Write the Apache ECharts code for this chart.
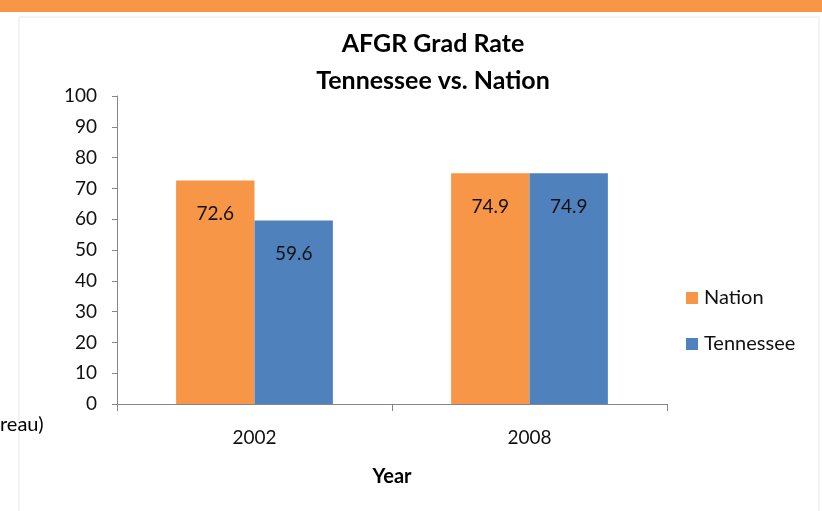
<!DOCTYPE html>
<html style="height: 100%">
<head>
    <meta charset="utf-8">
    <title>AFGR Grad Rate</title>
</head>
<body style="height: 100%; margin: 0">
<div id="container" style="width: 822px; height: 511px"></div>
<script src="https://cdn.jsdelivr.net/npm/echarts@6/dist/echarts.min.js"></script>
<script type="text/javascript">
    var years = ['2002', '2008'];
    var nation = [72.6, 74.9];
    var tennessee = [59.6, 74.9];
    var seriesNames = ['Nation', 'Tennessee'];

    var font = 'Lato, "Open Sans", sans-serif';
    var myChart = echarts.init(document.getElementById('container'));

    var labelStyle = {
        show: true,
        position: 'insideTop',
        distance: 24,
        color: '#111',
        fontSize: 19,
        fontFamily: font
    };

    var option = {
        backgroundColor: '#fff',
        animation: false,
        title: {
            text: 'AFGR Grad Rate\nTennessee vs. Nation',
            left: 428,
            textAlign: 'center',
            top: 20,
            textStyle: {
                color: '#000',
                fontSize: 25,
                fontWeight: 'bold',
                fontFamily: font,
                lineHeight: 37
            }
        },
        // orange band, panel frame and leftover slide text
        graphic: [
            { type: 'rect', shape: { x: 0, y: 0, width: 822, height: 12 }, style: { fill: '#F79646' } },
            { type: 'rect', shape: { x: 19, y: 17, width: 800, height: 520 }, style: { fill: 'none', stroke: '#e8e8e8', lineWidth: 1 } },
            { type: 'text', left: 0, top: 415, style: { text: 'reau)', fill: '#000', fontSize: 20, fontFamily: font } }
        ],
        legend: {
            orient: 'vertical',
            left: 681,
            top: 283,
            itemWidth: 12,
            itemHeight: 12,
            itemGap: 26,
            icon: 'rect',
            data: seriesNames,
            textStyle: { fontSize: 20, color: '#111', fontFamily: font, padding: [0, 0, 0, 1] }
        },
        grid: { left: 117, right: 155, top: 96, bottom: 107 },
        xAxis: {
            type: 'category',
            data: years,
            name: 'Year',
            nameLocation: 'middle',
            nameGap: 63,
            nameTextStyle: { fontSize: 20, fontWeight: 'bold', color: '#000', fontFamily: font },
            axisLine: { lineStyle: { color: '#868686', width: 1 } },
            axisTick: { show: true, length: 7, lineStyle: { color: '#868686' } },
            axisLabel: { fontSize: 19, color: '#111', margin: 24, fontFamily: font }
        },
        yAxis: {
            type: 'value',
            min: 0,
            max: 100,
            interval: 10,
            splitLine: { show: false },
            axisLine: { show: true, lineStyle: { color: '#868686', width: 1 } },
            axisTick: { show: true, length: 5, lineStyle: { color: '#868686' } },
            axisLabel: { fontSize: 19, color: '#111', margin: 20, fontFamily: font }
        },
        series: [
            {
                name: 'Nation',
                type: 'bar',
                data: nation,
                barGap: 0,
                barCategoryGap: '43%',
                itemStyle: { color: '#F79646' },
                label: labelStyle
            },
            {
                name: 'Tennessee',
                type: 'bar',
                data: tennessee,
                barGap: 0,
                barCategoryGap: '43%',
                itemStyle: { color: '#4F81BD' },
                label: labelStyle
            }
        ]
    };
    myChart.setOption(option);
</script>
</body>
</html>
